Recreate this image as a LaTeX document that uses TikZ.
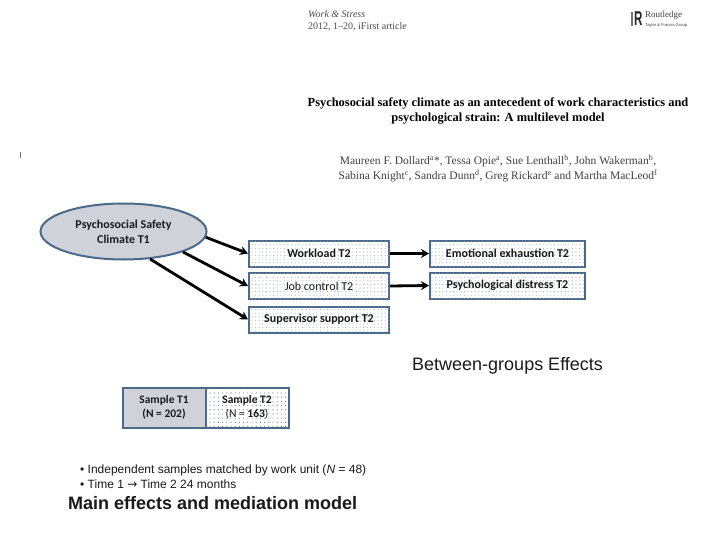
\documentclass[tikz,border=0pt]{standalone}
\usepackage{fontspec}
\setmainfont{Liberation Serif}
\newfontfamily\calfam{Carlito}
\newfontfamily\libfam{Liberation Sans}
\newfontfamily\dejfam{DejaVu Sans}
\usetikzlibrary{patterns.meta,shapes.geometric,arrows.meta}
\definecolor{edgeblue}{HTML}{4A6A8C}
\definecolor{dotblue}{HTML}{9DB0C6}
\definecolor{dotdark}{HTML}{5F7186}
\definecolor{greyfill}{HTML}{CFD2D8}
\definecolor{inktext}{HTML}{1A1A1A}
\newcommand{\fsz}[1]{\fontsize{#1}{#1}\selectfont}
\tikzset{
  x=1pt,y=-1pt,
  dotbox/.style={draw=edgeblue,line width=2pt,fill=white,postaction={pattern={Dots[distance=3.6pt,radius=0.55pt]},pattern color=dotblue},
    minimum height=26pt,inner sep=0pt,align=center,text=inktext,font=\calfam\bfseries\fsz{12}},
  plainbox/.style={draw=edgeblue,line width=2pt,minimum height=40pt,minimum width=83pt,inner sep=0pt,align=center,text=inktext,font=\calfam\bfseries\fsz{11.5}},
  oval/.style={ellipse,draw=edgeblue,line width=2pt,fill=greyfill,minimum width=166pt,minimum height=56pt,inner sep=0pt,align=center,text=inktext,font=\calfam\bfseries\fsz{12}},
  link/.style={draw=black,line width=2.8pt,-{Stealth[length=8pt,width=9pt]}},
  serif/.style={inner sep=0pt,anchor=west,text=inktext},
  sans/.style={inner sep=0pt,anchor=west,text=inktext},
}
\begin{document}
\begin{tikzpicture}
\useasboundingbox (0,0) rectangle (720,540);
\fill[white] (0,0) rectangle (720,540);
% paper header
\node[serif,font=\itshape\fsz{10},text=black!70] (jr) at (308,14) {Work \& Stress};
\node[serif,font=\fsz{10},text=black!70] (yr) at (308,26.5) {2012, 1--20, iFirst article};
\coordinate (sa) at (632,12);
\coordinate (sb) at (632,26);
\draw[black!55,line width=2pt] (sa) -- (sb);
\node[serif,font=\libfam\bfseries\fsz{20},text=black!85] (rlogo) at (634,19) {\scalebox{0.58}[1]{R}};
\node[serif,font=\fsz{9},text=black!75] (rname) at (645,15) {Routledge};
\node[serif,font=\libfam\fsz{4.1},text=black!75] (rsub) at (645,25.5) {Taylor \& Francis Group};
\node[inner sep=0pt,align=center,font=\bfseries\fsz{12.4},text=black] (title) at (498,111) {Psychosocial safety climate as an antecedent of work characteristics and\\[2.5pt]psychological strain: A multilevel model};
\node[inner sep=0pt,align=center,font=\fsz{11.5},text=black!75] (auth) at (498,168.5) {Maureen F. Dollard\textsuperscript{a}*, Tessa Opie\textsuperscript{a}, Sue Lenthall\textsuperscript{b}, John Wakerman\textsuperscript{b},\\[1.5pt]Sabina Knight\textsuperscript{c}, Sandra Dunn\textsuperscript{d}, Greg Rickard\textsuperscript{e} and Martha MacLeod\textsuperscript{f}};
\coordinate (ta) at (20,152);
\coordinate (tb) at (20,158);
\draw[black!55,line width=0.8pt] (ta) -- (tb);
% model
\node[oval] (psc) at (123.5,231.5) {Psychosocial Safety\\[3pt]Climate T1};
\node[dotbox,minimum width=140pt] (wl) at (319,253.5) {Workload T2};
\node[dotbox,minimum width=140pt] (jc) at (319,286) {\fontseries{m}\selectfont Job control T2};
\node[dotbox,minimum width=140pt] (ss) at (319,319.5) {Supervisor support T2};
\node[dotbox,minimum width=155pt] (ee) at (507.5,253.5) {Emotional exhaustion T2};
\node[dotbox,minimum width=155pt] (pd) at (507.5,285.5) {Psychological distress T2};
\draw[link] (psc.-4) -- (wl.west);
\draw[link] (psc.-19.3) -- (jc.west);
\draw[link] (psc.-46) -- (ss.west);
\draw[link] (wl.east) -- (ee.west);
\draw[link] (jc.east) -- (pd.west);
\node[sans,font=\libfam\fsz{18}] (beg) at (412,366) {Between-groups Effects};
% samples
\node[plainbox,fill=greyfill] (s1) at (164,407.5) {Sample T1\\[2pt](N = 202)};
\node[plainbox,fill=white,postaction={pattern={Dots[distance=4.2pt,radius=0.55pt]},pattern color=dotdark}] (s2) at (247,407.5) {Sample T2\\[2pt]{\fontseries{m}\selectfont (N =} 163{\fontseries{m}\selectfont )}};
\node[sans,font=\libfam\fsz{12}] (b1) at (80,470) {• Independent samples matched by work unit (\textit{N} = 48)};
\node[sans,font=\libfam\fsz{12}] (b2) at (80,484) {• Time 1 {\dejfam→} Time 2 24 months};
\node[sans,font=\libfam\bfseries\fsz{18}] (main) at (68,503) {Main effects and mediation model};
\end{tikzpicture}
\end{document}
